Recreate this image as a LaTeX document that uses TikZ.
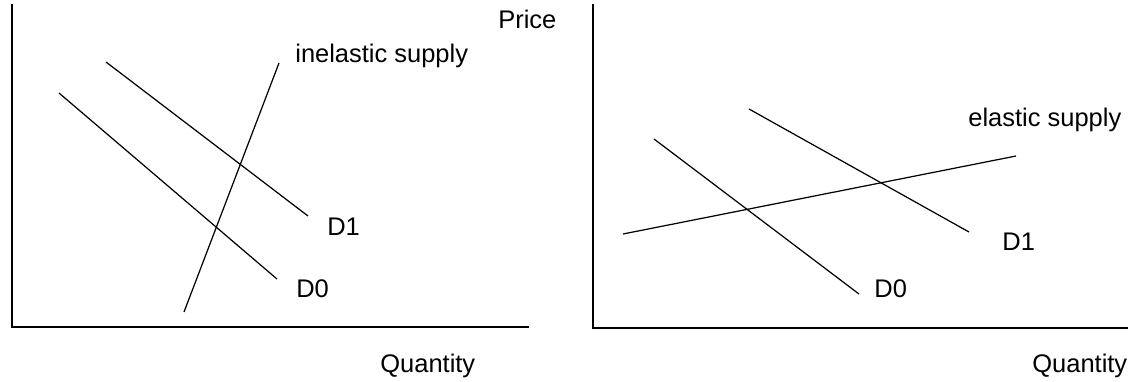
\documentclass[tikz,border=0pt]{standalone}
\usepackage{fontspec}
\setmainfont{Liberation Sans}
\usepackage{tikz}
\usetikzlibrary{positioning}

\begin{document}
\begin{tikzpicture}[
  x=0.02cm, y=-0.02cm,
  axis/.style={line width=1.1pt, color=black},
  curve/.style={line width=0.7pt, color=black},
  lbl/.style={anchor=base west, inner sep=0pt, font=\fontsize{14.5}{17}\selectfont}
]
\useasboundingbox (0,0) rectangle (1140,382);

% left panel: inelastic supply
\draw[axis] (12,4) -- (12,327) -- (529,327);
\draw[curve] (184,312) -- (279,63);
\draw[curve] (106,62) -- (308,216);
\draw[curve] (59,93) -- (277,279);
\node[lbl] (inel) at (295,62) {inelastic supply};
\node[lbl] (d1l) at (327,235) {D1};
\node[lbl] (d0l) at (296,297) {D0};
\node[lbl] (qtyl) at (380,372) {Quantity};
\node[lbl] (price) at (498,29) {Price};

% right panel: elastic supply
\draw[axis] (593,4) -- (593,328) -- (1128,328);
\draw[curve] (623,234) -- (1016,156);
\draw[curve] (654,139) -- (859,294);
\draw[curve] (749,109) -- (969,232);
\node[lbl] (el) at (968,126) {elastic supply};
\node[lbl] (d1r) at (1002,250) {D1};
\node[lbl] (d0r) at (874,297) {D0};
\node[lbl] (qtyr) at (1032,372) {Quantity};
\end{tikzpicture}
\end{document}
